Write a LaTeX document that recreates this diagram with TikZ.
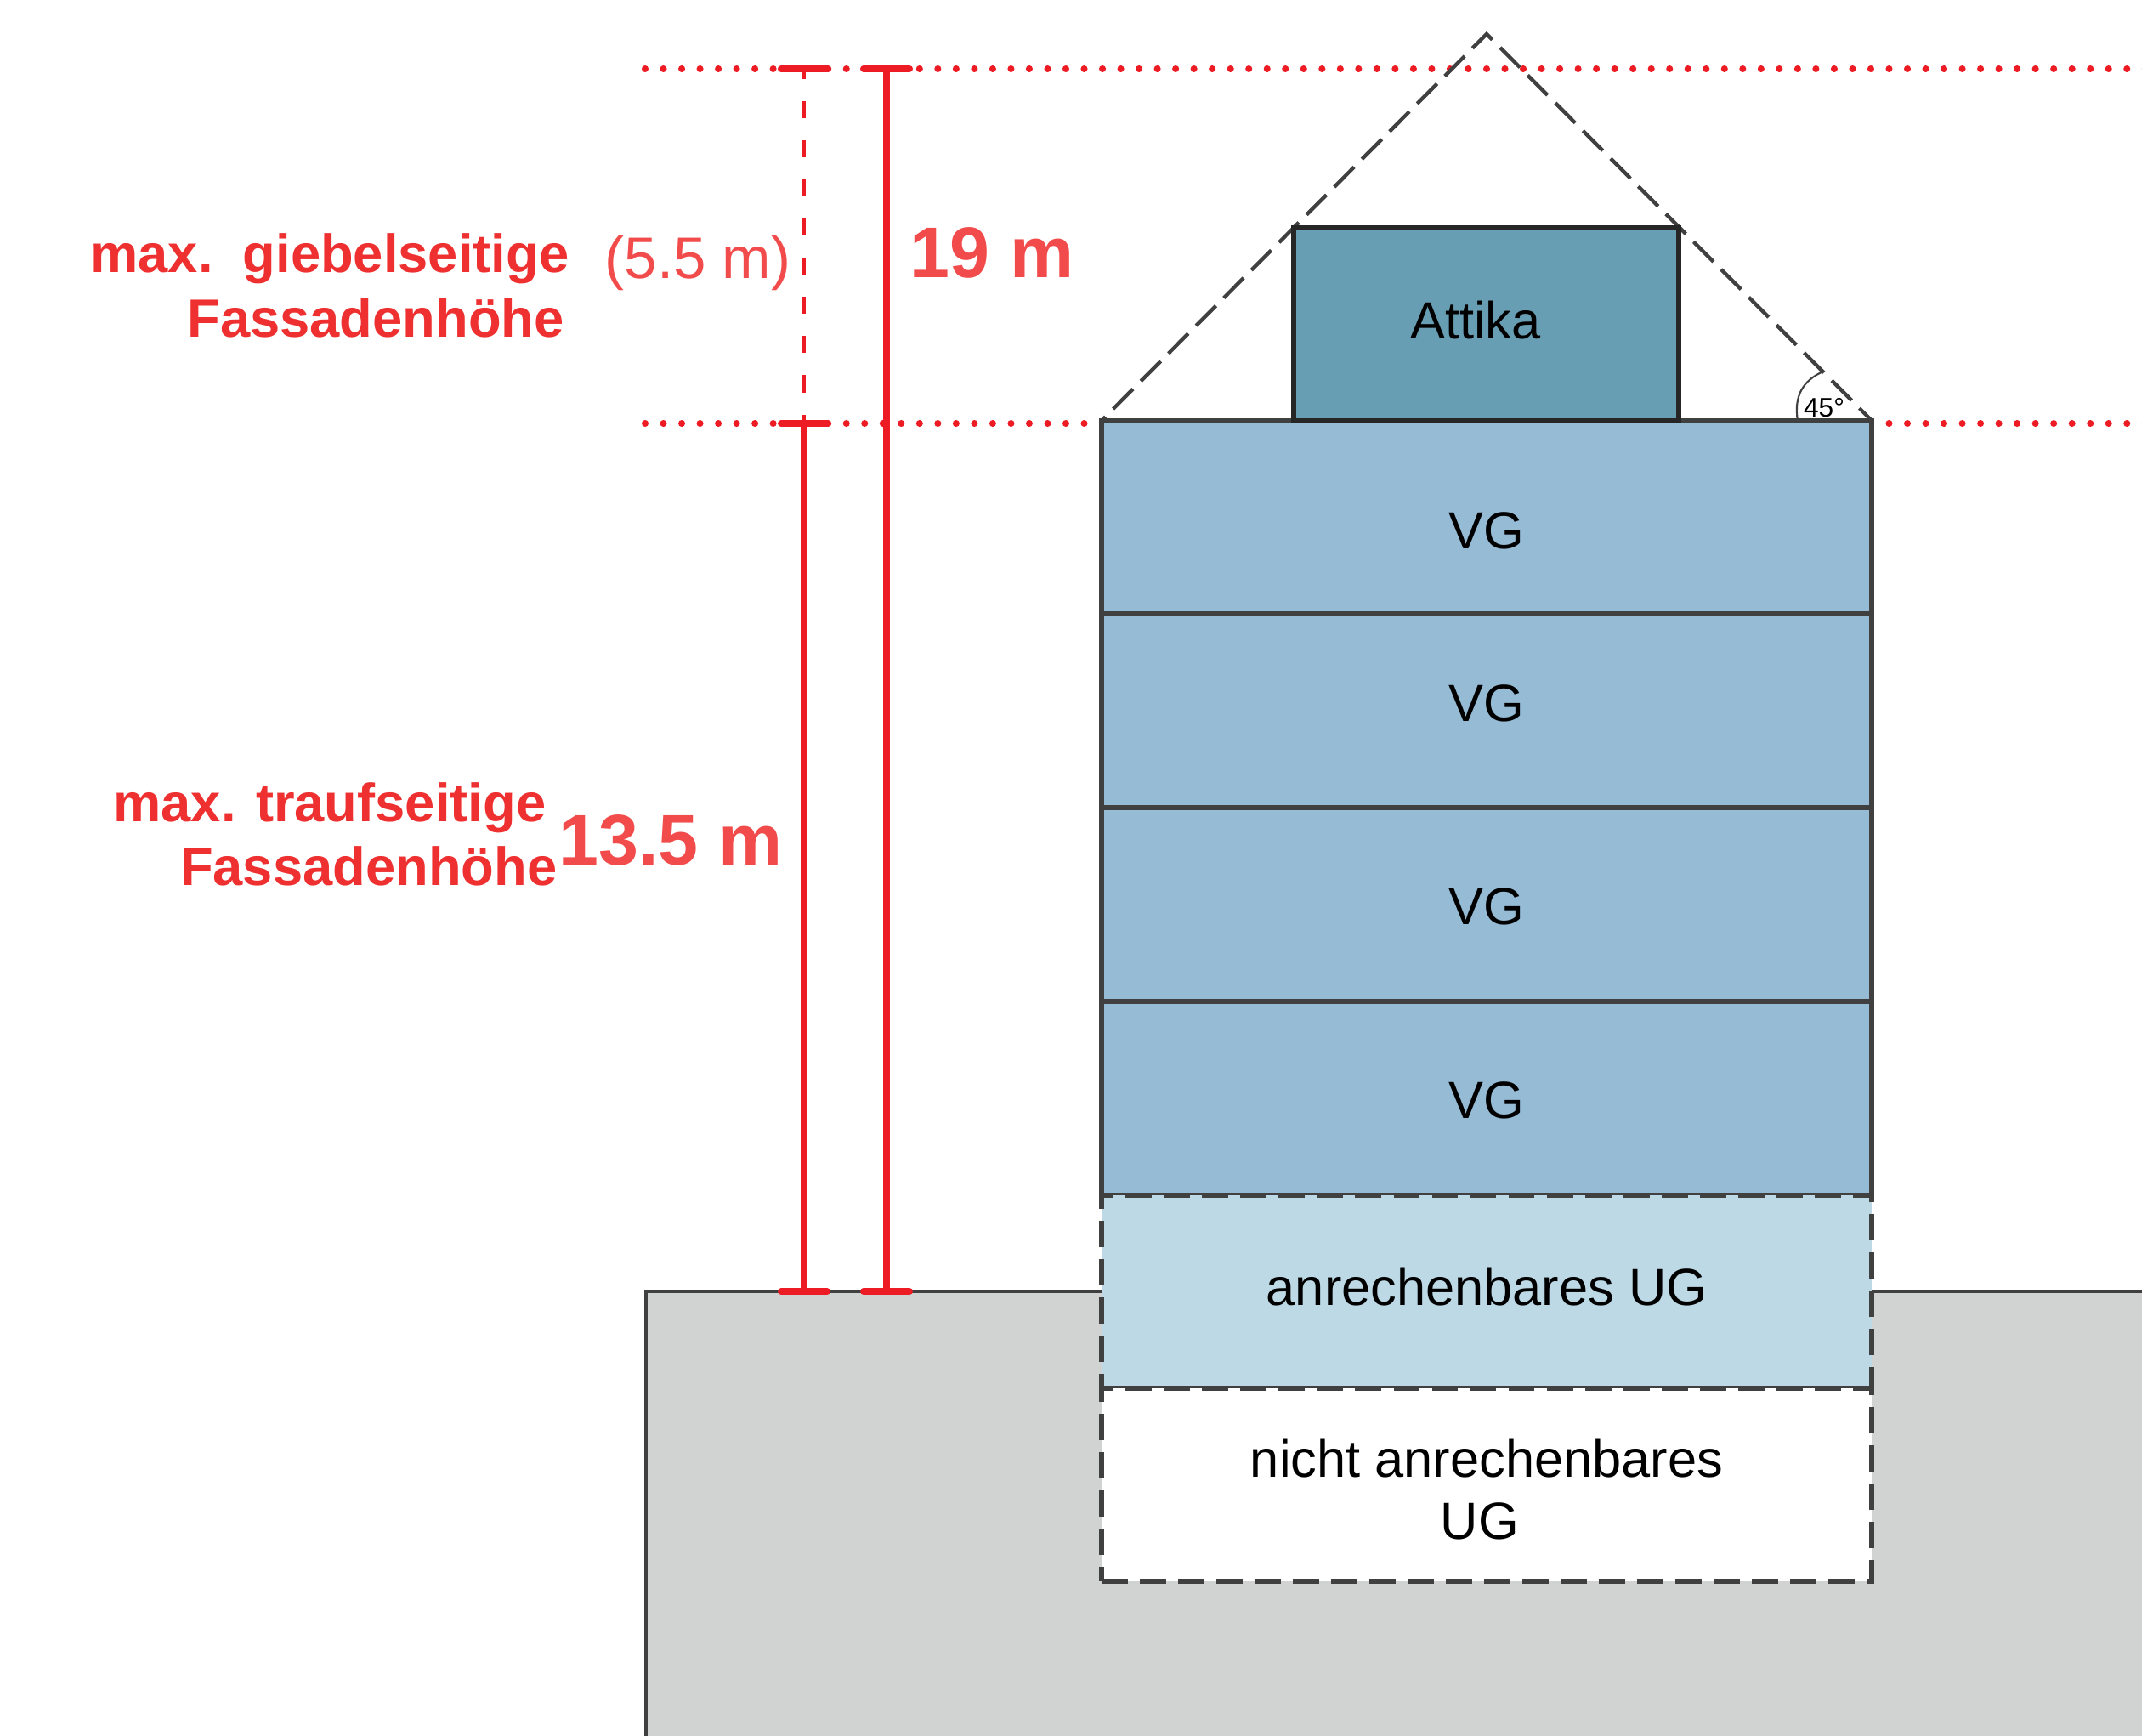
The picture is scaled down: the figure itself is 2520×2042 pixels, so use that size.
\documentclass[tikz,border=0pt]{standalone}
\usepackage{fontspec}
\setmainfont{Liberation Sans}
\definecolor{linegray}{HTML}{404040}
\definecolor{attikablue}{HTML}{689EB3}
\definecolor{vgblue}{HTML}{95BBD5}
\definecolor{ugblue}{HTML}{BCD9E5}
\definecolor{groundgray}{HTML}{D1D3D2}
\definecolor{barred}{HTML}{ED1C24}
\definecolor{labelred}{HTML}{EE3030}
\definecolor{sizered}{HTML}{F24B4B}

\begin{document}
\begin{tikzpicture}[
    x=0.01cm,
    y=-0.01cm,
    floor/.style={draw=linegray,line width=1.6pt,fill=vgblue,minimum width=9.06cm,minimum height=2.27cm,outer sep=0pt},
    ugfloor/.style={floor,dash pattern=on 8.8pt off 4pt,minimum height=2.27cm},
    attika/.style={draw=black!85,line width=1.6pt,fill=attikablue,minimum width=4.53cm,minimum height=2.27cm,outer sep=0pt},
    floortext/.style={anchor=base,inner sep=0pt,text=black,font=\fontsize{17.45}{20.8}\selectfont},
    redtext/.style={anchor=east,inner sep=0pt,align=right,text=labelred,font=\fontsize{18}{21.5}\selectfont\bfseries},
    bigtext/.style={anchor=base,inner sep=0pt,text=sizered,font=\fontsize{24}{28}\selectfont\bfseries},
    redbar/.style={draw=barred,line width=2.1pt},
    redtick/.style={draw=barred,line width=2.3pt,line cap=round},
    reddots/.style={draw=barred,line width=2.3pt,line cap=round,dash pattern=on 0pt off 6.12pt}]
    \useasboundingbox (0,0) rectangle (2520,2042);

    \coordinate (dotsTopL) at (759,81);
    \coordinate (dotsTopR) at (2540,81);
    \coordinate (dotsEaveL) at (759,498);
    \coordinate (dotsEaveR) at (2540,498);
    \coordinate (groundL) at (760,1519);
    \coordinate (groundR) at (2520,1519);
    \coordinate (groundB) at (760,2042);
    \coordinate (groundE) at (2520,2042);
    \coordinate (apex) at (1749,40);

    \fill[groundgray] (groundL) rectangle (groundE);
    \draw[linegray,line width=1.2pt] (groundR) -- (groundL) -- (groundB);
    \draw[reddots] (dotsTopL) -- (dotsTopR);
    \draw[reddots] (dotsEaveL) -- (dotsEaveR);

    \node[floor] (vgA) at (1749,608.5) {};
    \node[floor] (vgB) at (1749,836) {};
    \node[floor] (vgC) at (1749,1064) {};
    \node[floor] (vgD) at (1749,1292) {};
    \node[ugfloor,fill=ugblue] (ugA) at (1749,1519.5) {};
    \node[ugfloor,fill=white] (ugB) at (1749,1746.5) {};

    \draw[linegray,line width=1.25pt,dash pattern=on 9.4pt off 3.7pt,dash phase=7.5pt] (vgA.north west) -- (apex) -- (vgA.north east);
    \node[attika] (attikaBox) at (1748.5,381.5) {};
    \draw[linegray,line width=0.6pt] (2115,495) .. controls (2110,465) and (2122,447) .. (2145,437);

    \node[floortext] (attikaText) at (1736,398) {Attika};
    \node[floortext] (vgAText) at (1749,645) {VG};
    \node[floortext] (vgBText) at (1749,848) {VG};
    \node[floortext] (vgCText) at (1749,1087) {VG};
    \node[floortext] (vgDText) at (1749,1315) {VG};
    \node[floortext] (ugAText) at (1749,1535) {anrechenbares UG};
    \node[floortext,anchor=center,align=center] (ugBText) at (1749,1752) {nicht anrechenbares\\UG\hspace*{4.6pt}};
    \node[floortext,font=\fontsize{9}{11}\selectfont] (angleText) at (2146,490) {45°};

    \coordinate (gableBarT) at (946,81);
    \coordinate (gableBarB) at (946,498);
    \coordinate (eaveBarB) at (946,1519);
    \coordinate (fullBarT) at (1043,81);
    \coordinate (fullBarB) at (1043,1519);

    \draw[redbar,line width=1.1pt,dash pattern=on 5.7pt off 7.4pt,dash phase=2.3pt] (gableBarT) -- (gableBarB);
    \draw[redbar] (gableBarB) -- (eaveBarB);
    \draw[redbar] (fullBarT) -- (fullBarB);
    \draw[redtick] (gableBarT) ++(-27,0) -- ++(54,0);
    \draw[redtick] (gableBarB) ++(-27,0) -- ++(54,0);
    \draw[redtick] (eaveBarB) ++(-27,0) -- ++(54,0);
    \draw[redtick] (fullBarT) ++(-27,0) -- ++(54,0);
    \draw[redtick] (fullBarB) ++(-27,0) -- ++(54,0);

    \node[redtext] (gableLabel) at (670,336) {max.\ \ giebelseitige\\Fassadenhöhe\hspace*{1.6pt}};
    \node[redtext] (eaveLabel) at (656,981.5) {max. traufseitige\hspace*{3.7pt}\\Fassadenhöhe};
    \node[bigtext] (fullSize) at (1167,326) {19 m};
    \node[bigtext] (eaveSize) at (789,1017) {13.5 m};
    \node[floortext,text=sizered,font=\fontsize{19.6}{23}\selectfont] (gableSize) at (821,327) {(5.5 m)};
  \end{tikzpicture}
\end{document}
